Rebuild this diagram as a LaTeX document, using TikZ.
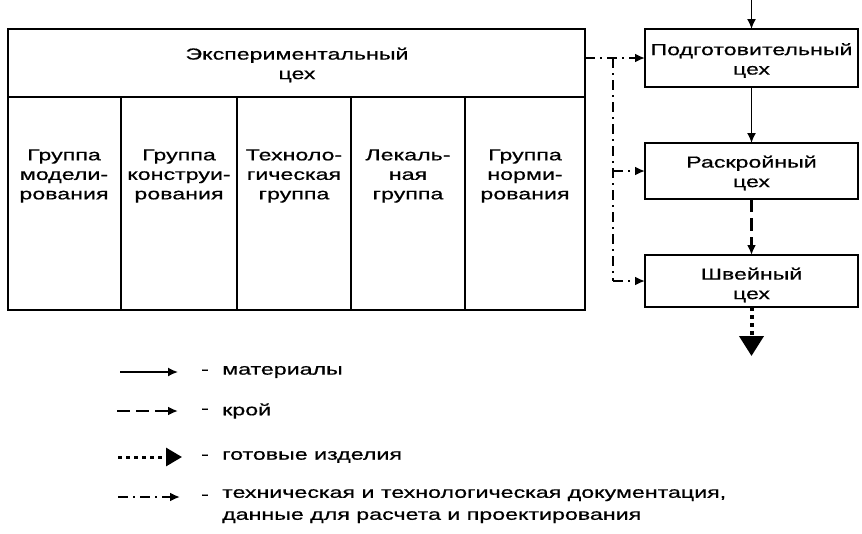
\documentclass[tikz,border=0pt]{standalone}
\usepackage{fontspec}
\setmainfont[FakeStretch=1.45,FakeBold=0.6]{Liberation Sans}
\usetikzlibrary{arrows.meta}
\begin{document}
\begin{tikzpicture}[x=1pt,y=-1pt,
  box/.style={draw, line width=2.5pt, inner sep=0pt, outer sep=0pt, anchor=north west},
  lbl/.style={font=\fontsize{16}{19.5}\selectfont, align=center, inner sep=0pt},
  leg/.style={font=\fontsize{16}{22}\selectfont, align=left, inner sep=0pt, anchor=west},
  mat/.style={line width=1.6pt, -{Latex[length=10pt,width=9pt]}},
  kroy/.style={mat, line width=2.4pt, dash pattern=on 13pt off 6pt},
  gotov/.style={line width=4pt, dash pattern=on 4pt off 4pt, -{Triangle[length=20pt,width=24pt]}},
  docu/.style={mat, line width=2.2pt, dash pattern=on 10pt off 5pt on 2pt off 5pt}]
\useasboundingbox (0,0) rectangle (862,533);
% experimental shop
\node[box, minimum width=577pt, minimum height=68pt] (hdr) at (8,29) {};
\node[lbl] (hdrt) at (297,65) {Экспериментальный\\цех};
\node[box, minimum width=113pt, minimum height=213pt] (c1) at (8,97) {};
\node[box, minimum width=116pt, minimum height=213pt] (c2) at (121,97) {};
\node[box, minimum width=114pt, minimum height=213pt] (c3) at (237,97) {};
\node[box, minimum width=114pt, minimum height=213pt] (c4) at (351,97) {};
\node[box, minimum width=120pt, minimum height=213pt] (c5) at (465,97) {};
\node[lbl] (t1) at (64,176) {Группа\\модели-\\рования};
\node[lbl] (t2) at (179,176) {Группа\\конструи-\\рования};
\node[lbl] (t3) at (294,176) {Техноло-\\гическая\\группа};
\node[lbl] (t4) at (408,176) {Лекаль-\\ная\\группа};
\node[lbl] (t5) at (525,176) {Группа\\норми-\\рования};
% production shops
\node[box, minimum width=213pt, minimum height=58pt] (podg) at (645,29) {};
\node[lbl] (podgt) at (751.5,60.5) {Подготовительный\\цех};
\node[box, minimum width=213pt, minimum height=56pt] (rask) at (645,143) {};
\node[lbl] (raskt) at (751.5,173) {Раскройный\\цех};
\node[box, minimum width=213pt, minimum height=52pt] (shv) at (645,255) {};
\node[lbl] (shvt) at (751.5,285) {Швейный\\цех};
% connectors
\coordinate (inp) at (751.5,0);
\coordinate (outp) at (751.5,356);
\draw[mat] (inp) -- (podg.north);
\draw[mat] (podg.south) -- (rask.north);
\draw[kroy] (rask.south) -- (shv.north);
\draw[gotov] (shv.south) -- (outp);
\coordinate (j1) at (613,58);
\draw[docu] (hdr.east |- podg.west) -- (podg.west);
\draw[docu, -] (j1) -- (613,281);
\draw[docu] (613,281) -- (shv.west);
\draw[docu] (613,171) -- (rask.west);
% legend
\coordinate (a1) at (120,372); \coordinate (b1) at (178,372);
\coordinate (a2) at (117,411); \coordinate (b2) at (178,411);
\coordinate (a3) at (118,457); \coordinate (b3) at (182,457);
\coordinate (a4) at (118,497); \coordinate (b4) at (180,497);
\draw[mat] (a1) -- (b1);
\draw[kroy] (a2) -- (b2);
\draw[gotov, -{Triangle[length=16pt,width=18pt]}, line width=3pt] (a3) -- (b3);
\draw[docu] (a4) -- (b4);
\node[leg] (d1) at (201,372) {-};
\node[leg] (d2) at (201,411) {-};
\node[leg] (d3) at (201,457) {-};
\node[leg] (d4) at (201,497) {-};
\node[leg] (l1) at (222,372) {материалы};
\node[leg] (l2) at (222,411) {крой};
\node[leg] (l3) at (222,457) {готовые изделия};
\node[leg, anchor=north west] (l4) at (222,489) {техническая и технологическая документация,\\данные для расчета и проектирования};
\end{tikzpicture}
\end{document}
